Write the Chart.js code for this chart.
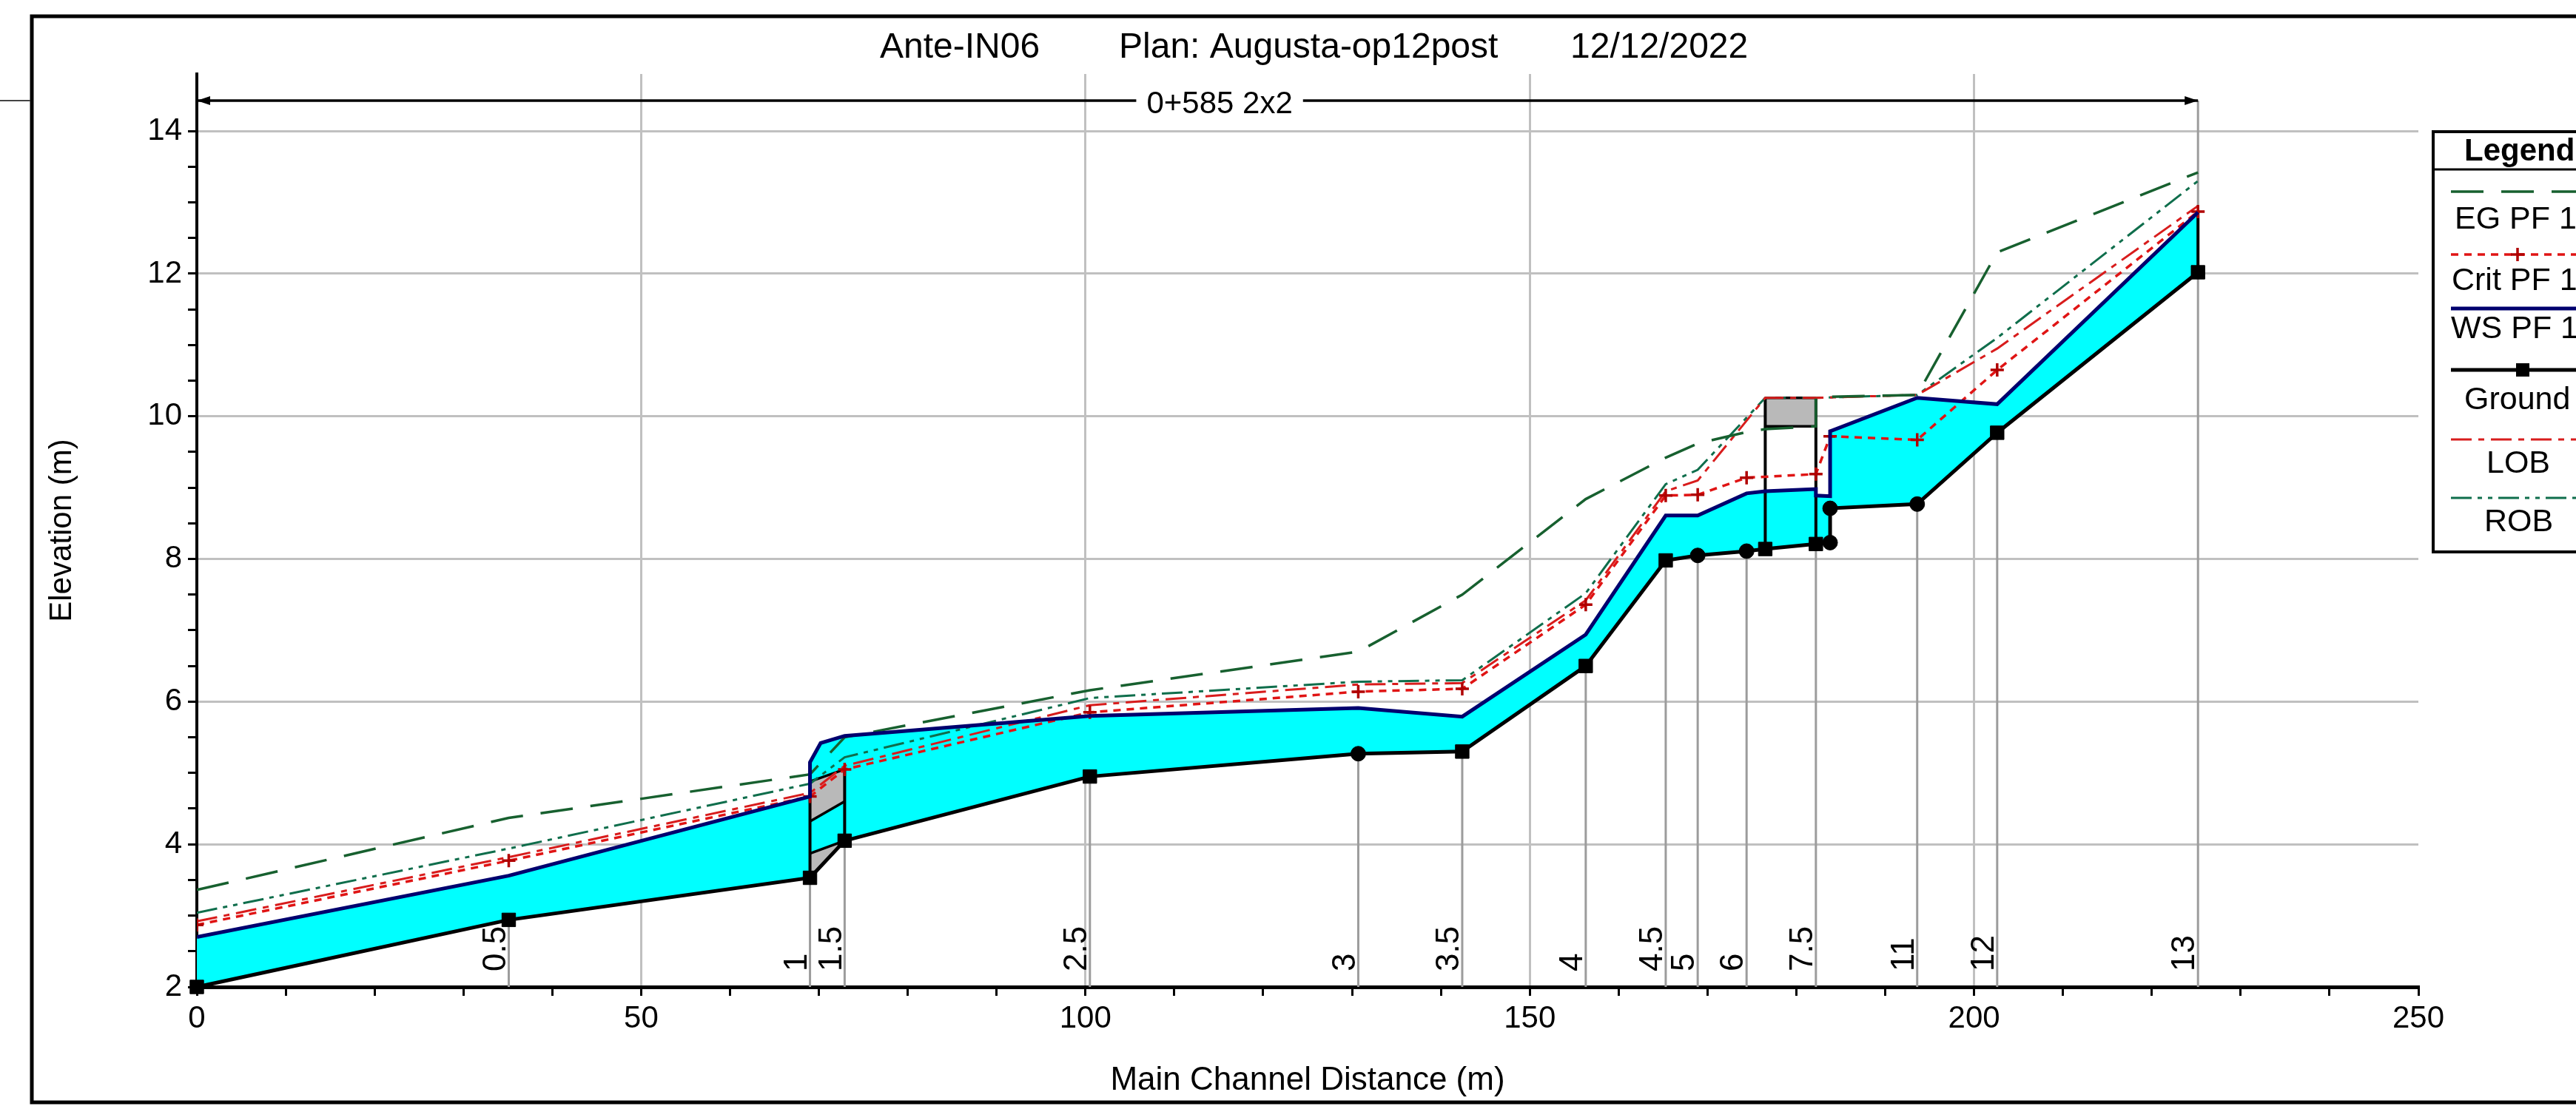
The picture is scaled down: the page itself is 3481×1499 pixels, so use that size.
<!DOCTYPE html>
<html>
<head>
<meta charset="utf-8">
<title>Ante-IN06 - profile</title>
<script src="https://cdn.jsdelivr.net/npm/chart.js@4.4.1/dist/chart.umd.min.js"></script>
<style>
  html, body { margin: 0; padding: 0; background: #fff; }
  #wrap { width: 3481px; height: 1499px; }
</style>
</head>
<body>
<div id="wrap"><canvas id="profile" width="3481" height="1499"></canvas></div>
<script>
// --- DATA | PROFILE --- //
// River stations (main channel distance, m) and their names
const stationDist = [0, 35.1, 69.0, 72.9, 100.5, 130.7, 142.4, 156.3, 165.3, 168.9, 174.4, 182.2, 193.6, 202.6, 225.2]
const stationName = ['', '0.5', '1', '1.5', '2.5', '3', '3.5', '4', '4.5', '5', '6', '7.5', '11', '12', '13']

// Ground (channel invert)
const groundDist = [0, 35.1, 69.0, 72.9, 100.5, 130.7, 142.4, 156.3, 165.3, 168.9, 174.4, 176.5, 182.2, 183.8, 183.8, 193.6, 202.6, 225.2]
const groundElev = [2.00, 2.94, 3.53, 4.05, 4.95, 5.27, 5.30, 6.50, 7.98, 8.05, 8.11, 8.14, 8.21, 8.23, 8.71, 8.77, 9.77, 12.02]

// Water surface
const wsDist = [0, 35.1, 69.0, 69.0, 70.2, 72.9, 100.5, 130.7, 142.4, 156.3, 165.3, 168.9, 174.4, 176.5, 182.2, 182.2, 183.8, 183.8, 193.6, 202.6, 225.2]
const wsElev = [2.70, 3.56, 4.67, 5.15, 5.42, 5.52, 5.80, 5.91, 5.79, 6.94, 8.61, 8.61, 8.92, 8.95, 8.98, 8.89, 8.88, 9.79, 10.26, 10.17, 12.86]

// Critical depth
const critDist = [0, 35.1, 69.0, 72.9, 100.5, 130.7, 142.4, 156.3, 165.3, 168.9, 174.4, 182.2, 183.8, 193.6, 202.6, 225.2]
const critElev = [2.87, 3.77, 4.67, 5.05, 5.85, 6.14, 6.18, 7.36, 8.89, 8.90, 9.14, 9.19, 9.72, 9.67, 10.65, 12.87]

// Energy grade line
const egDist = [0, 35.1, 69.0, 72.9, 100.5, 130.7, 142.4, 156.3, 165.3, 168.9, 174.4, 176.5, 182.2, 182.2, 193.6, 202.6, 225.2]
const egElev = [3.36, 4.37, 4.98, 5.50, 6.16, 6.70, 7.50, 8.84, 9.42, 9.62, 9.78, 9.82, 9.86, 10.27, 10.30, 12.30, 13.42]

// Bank stations
const bankDist = [0, 35.1, 69.0, 72.9, 100.5, 130.7, 142.4, 156.3, 165.3, 168.9, 176.5, 182.2, 193.6, 202.6, 225.2]
const lobElev = [2.92, 3.82, 4.72, 5.10, 5.95, 6.24, 6.26, 7.42, 8.95, 9.10, 10.26, 10.26, 10.30, 10.95, 12.95]
const robElev = [3.04, 3.94, 4.85, 5.22, 6.05, 6.28, 6.30, 7.52, 9.05, 9.25, 10.26, 10.26, 10.30, 11.10, 13.30]

// Culvert / deck (gray areas): distance pairs, top and bottom edges
const deckDist = [[69.0, 72.9], [69.0, 72.9], [176.5, 182.2]]
const deckTop = [[4.88, 5.05], [3.87, 4.05], [10.26, 10.26]]
const deckBot = [[4.32, 4.60], [3.53, 4.05], [9.86, 9.86]]

// Structure faces (black verticals)
const faceDist = [69.0, 72.9, 176.5, 182.2, 225.2]
const faceLow = [3.53, 4.05, 8.14, 8.21, 12.02]
const faceHigh = [5.15, 5.05, 10.26, 10.26, 12.86]

// Axis tick labels
const distTicks = [0, 50, 100, 150, 200, 250]
const elevTicks = [2, 4, 6, 8, 10, 12, 14]

// Reach arrow
const reachStart = 0
const reachEnd = 225.2
const reachLabel = '0+585 2x2'

const titleParts = ['Ante-IN06', 'Plan: Augusta-op12post', '12/12/2022']

// --- HELPERS --- //
const FONT = "'Liberation Sans', Arial, sans-serif"
Chart.defaults.font.family = FONT
Chart.defaults.color = '#000'

const pts = (xs, ys) => xs.map((x, i) => ({ x, y: ys[i] }))
const segs = (xs, lo, hi) => xs.flatMap((x, i) => [{ x, y: lo[i] }, { x, y: hi[i] }, { x: x + 0.01, y: null }])

const roundMarks = [130.7, 168.9, 174.4, 183.8, 193.6]

const STYLE = {
  eg: { color: '#17602f', dash: [44, 24], width: 3.5 },
  crit: { color: '#e01414', dash: [10, 8], width: 3.5 },
  ws: { color: '#00006e', dash: [], width: 5 },
  ground: { color: '#000', dash: [], width: 5 },
  lob: { color: '#d81c1c', dash: [28, 9, 8, 9], width: 3 },
  rob: { color: '#0f6e4c', dash: [28, 8, 6, 8, 6, 8], width: 3 }
}

const line = (label, data, st, order, extra) => Object.assign({
  label, data, order,
  borderColor: st.color, borderDash: st.dash, borderWidth: st.width,
  pointRadius: 0, fill: false, tension: 0, spanGaps: false
}, extra || {})

// --- DATASETS --- //
const datasets = [
  // 0: water fill between WS and ground
  { label: 'wsFill', data: pts(wsDist, wsElev), order: 20, borderWidth: 0, pointRadius: 0,
    backgroundColor: '#00ffff', fill: 1 },
  // 1: ground
  line('Ground', pts(groundDist, groundElev), STYLE.ground, 1, {
    clip: false,
    pointStyle: ctx => roundMarks.includes(ctx.raw && ctx.raw.x) ? 'circle' : 'rect',
    pointRadius: ctx => roundMarks.includes(ctx.raw && ctx.raw.x) ? 10 : 13,
    pointBackgroundColor: '#000', pointBorderColor: '#000', pointBorderWidth: 1
  }),
  line('WS PF 1', pts(wsDist, wsElev), STYLE.ws, 2),
  line('Crit PF 1', pts(critDist, critElev), STYLE.crit, 3, {
    pointStyle: 'cross', pointRadius: 9, pointBorderWidth: 3.5, pointBorderColor: '#b00000'
  }),
  line('EG PF 1', pts(egDist, egElev), STYLE.eg, 4),
  line('LOB', pts(bankDist, lobElev), STYLE.lob, 5),
  line('ROB', pts(bankDist, robElev), STYLE.rob, 6),
  line('faces', segs(faceDist, faceLow, faceHigh), { color: '#000', dash: [], width: 4 }, 7)
]

// gray decks: top edge fills down to bottom edge
deckDist.forEach((xs, i) => {
  const topIndex = datasets.length
  datasets.push(line('deckTop' + i, pts(xs, deckTop[i]), { color: '#000', dash: [], width: 3.5 }, 15, {
    fill: topIndex + 1, backgroundColor: '#b9b9b9'
  }))
  datasets.push(line('deckBot' + i, pts(xs, deckBot[i]), { color: '#000', dash: [], width: 3.5 }, 14))
})

// --- DECOR PLUGIN (stations, title, reach arrow, legend, frame) --- //
const REACH_Y = 136

const decor = {
  id: 'decor',
  beforeDatasetsDraw (chart) {
    const { ctx, scales: { x, y } } = chart
    ctx.save()
    // vertical station lines from the axis to the ground
    ctx.strokeStyle = '#9c9c9c'
    ctx.lineWidth = 3
    stationDist.forEach((d, i) => {
      if (d === 0) return
      const px = x.getPixelForValue(d)
      const g = groundElev[groundDist.indexOf(d)]
      const top = i === stationDist.length - 1 ? REACH_Y : y.getPixelForValue(g)
      ctx.beginPath()
      ctx.moveTo(px, y.bottom)
      ctx.lineTo(px, top)
      ctx.stroke()
    })
    // station names, rotated
    ctx.fillStyle = '#000'
    ctx.font = '44px ' + FONT
    ctx.textAlign = 'left'
    ctx.textBaseline = 'middle'
    stationDist.forEach((d, i) => {
      if (!stationName[i]) return
      ctx.save()
      ctx.translate(x.getPixelForValue(d) - 17, 1313)
      ctx.rotate(-Math.PI / 2)
      ctx.fillText(stationName[i], 0, 0)
      ctx.restore()
    })
    ctx.restore()
  },
  afterDraw (chart) {
    const { ctx, scales: { x } } = chart
    ctx.save()

    // title
    ctx.fillStyle = '#000'
    ctx.font = '48px ' + FONT
    ctx.textBaseline = 'middle'
    ctx.textAlign = 'left'
    const titleX = [1189, 1512, 2122]
    titleParts.forEach((t, i) => ctx.fillText(t, titleX[i], 65))

    // reach arrow
    const x0 = x.getPixelForValue(reachStart)
    const x1 = x.getPixelForValue(reachEnd)
    ctx.strokeStyle = '#000'
    ctx.lineWidth = 3.5
    ctx.beginPath()
    ctx.moveTo(x0, REACH_Y)
    ctx.lineTo(x1, REACH_Y)
    ctx.stroke()
    ctx.beginPath()
    ctx.moveTo(x0, REACH_Y); ctx.lineTo(x0 + 18, REACH_Y - 6); ctx.lineTo(x0 + 18, REACH_Y + 6)
    ctx.closePath()
    ctx.moveTo(x1, REACH_Y); ctx.lineTo(x1 - 18, REACH_Y - 6); ctx.lineTo(x1 - 18, REACH_Y + 6)
    ctx.closePath()
    ctx.fillStyle = '#000'
    ctx.fill()
    ctx.font = '42px ' + FONT
    const mid = (x0 + x1) / 2 + 30
    const w = ctx.measureText(reachLabel).width
    ctx.fillStyle = '#fff'
    ctx.fillRect(mid - w / 2 - 14, REACH_Y - 22, w + 28, 46)
    ctx.fillStyle = '#000'
    ctx.textAlign = 'center'
    ctx.fillText(reachLabel, mid, REACH_Y + 5)

    // legend box
    const lx = 3288
    ctx.fillStyle = '#fff'
    ctx.fillRect(lx, 178, 260, 568)
    ctx.strokeStyle = '#000'
    ctx.lineWidth = 4
    ctx.strokeRect(lx, 178, 260, 568)
    ctx.lineWidth = 3
    ctx.beginPath(); ctx.moveTo(lx, 229); ctx.lineTo(3481, 229); ctx.stroke()
    ctx.fillStyle = '#000'
    ctx.textAlign = 'left'
    ctx.font = 'bold 42px ' + FONT
    ctx.fillText('Legend', 3330, 205)

    const items = [
      { label: 'EG PF 1', st: STYLE.eg, ly: 259, tx: 3317, ty: 297 },
      { label: 'Crit PF 1', st: STYLE.crit, ly: 344, tx: 3313, ty: 380, mark: 'cross' },
      { label: 'WS PF 1', st: STYLE.ws, ly: 417, tx: 3312, ty: 445 },
      { label: 'Ground', st: STYLE.ground, ly: 500, tx: 3330, ty: 541, mark: 'rect' },
      { label: 'LOB', st: STYLE.lob, ly: 594, tx: 3360, ty: 627 },
      { label: 'ROB', st: STYLE.rob, ly: 673, tx: 3357, ty: 706 }
    ]
    ctx.font = '43px ' + FONT
    items.forEach(it => {
      ctx.save()
      ctx.strokeStyle = it.st.color
      ctx.lineWidth = it.st.width
      ctx.setLineDash(it.st.dash)
      ctx.beginPath(); ctx.moveTo(3312, it.ly); ctx.lineTo(3481, it.ly); ctx.stroke()
      ctx.setLineDash([])
      if (it.mark === 'cross') {
        ctx.strokeStyle = '#b00000'
        ctx.lineWidth = 3.5
        ctx.beginPath()
        ctx.moveTo(3402 - 9, it.ly); ctx.lineTo(3402 + 9, it.ly)
        ctx.moveTo(3402, it.ly - 9); ctx.lineTo(3402, it.ly + 9)
        ctx.stroke()
      }
      if (it.mark === 'rect') {
        ctx.fillStyle = '#000'
        ctx.fillRect(3409 - 9, it.ly - 9, 18, 18)
      }
      ctx.restore()
      ctx.fillStyle = '#000'
      ctx.fillText(it.label, it.tx, it.ty)
    })

    // outer frame
    ctx.strokeStyle = '#000'
    ctx.lineWidth = 5
    ctx.strokeRect(43, 22, 3481, 1468)
    ctx.lineWidth = 2
    ctx.strokeStyle = '#444'
    ctx.beginPath(); ctx.moveTo(0, REACH_Y); ctx.lineTo(41, REACH_Y); ctx.stroke()

    ctx.restore()
  }
}

// --- CHART --- //
const xMinor = []
for (let v = 0; v <= 250; v += 10) xMinor.push(v)
const yMinor = []
for (let v = 2; v <= 14; v += 0.5) yMinor.push(v)

const grayGrid = '#c0c0c0'

const profile = new Chart(document.getElementById('profile'), {
  type: 'line',
  data: { datasets },
  plugins: [decor],
  options: {
    responsive: false,
    devicePixelRatio: 1,
    animation: false,
    events: [],
    layout: { padding: { top: 100, right: 213, bottom: 0, left: 0 } },
    plugins: {
      legend: { display: false },
      tooltip: { enabled: false },
      title: { display: false }
    },
    scales: {
      x: {
        type: 'linear',
        min: 0,
        max: 250,
        afterBuildTicks: s => { s.ticks = xMinor.map(v => ({ value: v })) },
        afterFit: s => { s.height = 165 },
        ticks: {
          autoSkip: false,
          maxRotation: 0,
          padding: 6,
          color: '#000',
          font: { size: 42 },
          callback: v => distTicks.includes(v) ? String(v) : ''
        },
        grid: {
          color: c => (c.tick && distTicks.includes(c.tick.value) && c.tick.value > 0 && c.tick.value < 250) ? grayGrid : 'rgba(0,0,0,0)',
          lineWidth: 3,
          tickColor: '#000',
          tickLength: 12,
          tickWidth: 3
        },
        border: { display: true, color: '#000', width: 5 },
        title: {
          display: true,
          text: 'Main Channel Distance (m)',
          color: '#000',
          font: { size: 44 },
          padding: { top: 0, bottom: 12 }
        }
      },
      y: {
        type: 'linear',
        min: 2,
        max: 14.8,
        afterBuildTicks: s => { s.ticks = yMinor.map(v => ({ value: v })) },
        afterFit: s => { s.width = 266 },
        ticks: {
          autoSkip: false,
          padding: 8,
          color: '#000',
          font: { size: 42 },
          callback: v => elevTicks.includes(v) ? String(v) : ''
        },
        grid: {
          color: c => (c.tick && elevTicks.includes(c.tick.value) && c.tick.value > 2) ? grayGrid : 'rgba(0,0,0,0)',
          lineWidth: 3,
          tickColor: '#000',
          tickLength: 12,
          tickWidth: 3
        },
        border: { display: true, color: '#000', width: 4 },
        title: {
          display: true,
          text: 'Elevation (m)',
          color: '#000',
          font: { size: 42 },
          padding: { top: 59, bottom: 0 }
        }
      }
    }
  }
})
</script>
</body>
</html>
